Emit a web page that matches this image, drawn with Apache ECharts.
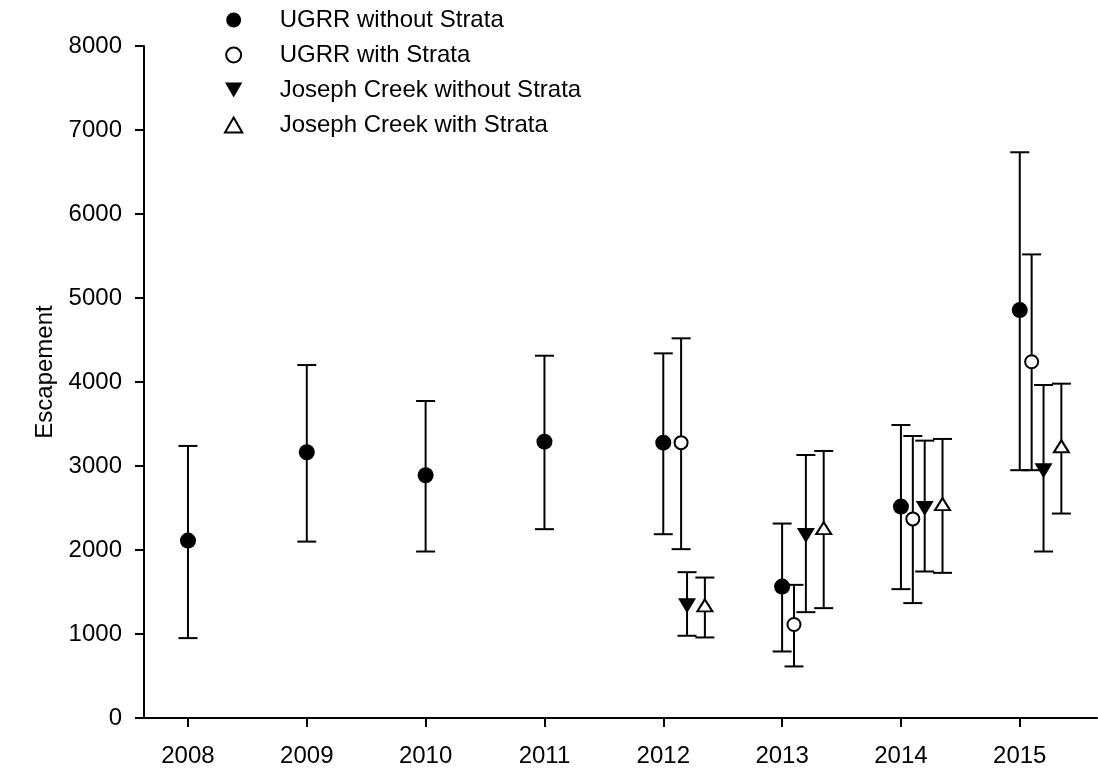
<!DOCTYPE html>
<html>
<head>
<meta charset="utf-8">
<script src="https://cdn.jsdelivr.net/npm/echarts@6/dist/echarts.min.js"></script>
<style>
html,body{margin:0;padding:0;background:#fff;}
#chart{width:1098px;height:773px;}
</style>
</head>
<body>
<div id="chart"></div>
<script>
// ---- Data ----
const years = [2008, 2009, 2010, 2011, 2012, 2013, 2014, 2015];
const yTicks = [0, 1000, 2000, 3000, 4000, 5000, 6000, 7000, 8000];

// UGRR without Strata
const ugrrNoX = [2008, 2009, 2010, 2011, 2012, 2013, 2014, 2015];
const ugrrNoEst = [2112, 3164, 2890, 3290, 3278, 1565, 2517, 4856];
const ugrrNoLow = [951, 2100, 1982, 2248, 2188, 792, 1534, 2950];
const ugrrNoHigh = [3239, 4202, 3774, 4313, 4341, 2315, 3488, 6735];

// UGRR with Strata
const ugrrStX = [2012.15, 2013.1, 2014.1, 2015.1];
const ugrrStEst = [3278, 1113, 2370, 4241];
const ugrrStLow = [2010, 614, 1368, 2950];
const ugrrStHigh = [4520, 1585, 3357, 5519];

// Joseph Creek without Strata
const josNoX = [2012.2, 2013.2, 2014.2, 2015.2];
const josNoEst = [1335, 2172, 2495, 2944];
const josNoLow = [979, 1260, 1744, 1982];
const josNoHigh = [1736, 3131, 3302, 3964];

// Joseph Creek with Strata
const josStX = [2012.35, 2013.35, 2014.35, 2015.35];
const josStEst = [1341, 2260, 2547, 3235];
const josStLow = [959, 1308, 1728, 2434];
const josStHigh = [1672, 3179, 3322, 3980];

const names = ['UGRR without Strata', 'UGRR with Strata', 'Joseph Creek without Strata', 'Joseph Creek with Strata'];

// ---- Build ----
const FONT = '"Liberation Sans", Arial, sans-serif';
function pts(xs, ys) { return xs.map((x, i) => [x, ys[i]]); }
function bars(xs, lo, hi) { return xs.map((x, i) => [x, lo[i], hi[i]]); }

function errorSeries(id, data) {
  return {
    type: 'custom',
    name: id,
    data: data,
    z: 1,
    silent: true,
    encode: { x: 0, y: [1, 2] },
    renderItem: function (params, api) {
      const x = api.value(0);
      const a = api.coord([x, api.value(1)]);
      const b = api.coord([x, api.value(2)]);
      const hw = 9.5;
      const st = { stroke: '#000', lineWidth: 2, fill: null };
      return {
        type: 'group',
        children: [
          { type: 'line', shape: { x1: a[0], y1: a[1], x2: b[0], y2: b[1] }, style: st },
          { type: 'line', shape: { x1: a[0] - hw, y1: a[1], x2: a[0] + hw, y2: a[1] }, style: st },
          { type: 'line', shape: { x1: b[0] - hw, y1: b[1], x2: b[0] + hw, y2: b[1] }, style: st }
        ]
      };
    }
  };
}

const downTri = 'path://M0,0L10,0L5,8.66Z';
const upTri = 'path://M5,0L10,8.66L0,8.66Z';

const option = {
  animation: false,
  backgroundColor: '#fff',
  textStyle: { fontFamily: FONT },
  grid: { left: 144, right: 1, top: 46, bottom: 55, containLabel: false, outerBoundsMode: 'none' },
  legend: {
    orient: 'vertical',
    left: 219,
    top: 3,
    itemWidth: 82,
    itemHeight: 15,
    itemGap: 11,
    symbolKeepAspect: true,
    selectedMode: false,
    textStyle: { fontFamily: FONT, fontSize: 24, color: '#000' },
    data: [
      { name: names[0], icon: 'circle' },
      { name: names[1], icon: 'circle' },
      { name: names[2], icon: downTri },
      { name: names[3], icon: upTri }
    ]
  },
  xAxis: {
    type: 'value',
    min: 2007.63,
    max: 2015.65,
    axisLine: { lineStyle: { color: '#000', width: 2 } },
    axisTick: { length: 9, lineStyle: { color: '#000', width: 2 }, customValues: years },
    axisLabel: { customValues: years, fontFamily: FONT, fontSize: 24, color: '#000', margin: 26,
      formatter: function (v) { return String(Math.round(v)); } },
    splitLine: { show: false }
  },
  yAxis: {
    type: 'value',
    min: yTicks[0],
    max: yTicks[yTicks.length - 1],
    interval: 1000,
    name: 'Escapement',
    nameLocation: 'middle',
    nameGap: 60,
    nameTextStyle: { fontFamily: FONT, fontSize: 24, color: '#000', padding: [0, 0, 0, 20] },
    axisLine: { show: true, lineStyle: { color: '#000', width: 2 } },
    axisTick: { show: true, length: 9, lineStyle: { color: '#000', width: 2 } },
    axisLabel: { fontFamily: FONT, fontSize: 24, color: '#000', margin: 22,
      formatter: function (v) { return String(v); } },
    splitLine: { show: false }
  },
  series: [
    errorSeries('eb1', bars(ugrrNoX, ugrrNoLow, ugrrNoHigh)),
    errorSeries('eb2', bars(ugrrStX, ugrrStLow, ugrrStHigh)),
    errorSeries('eb3', bars(josNoX, josNoLow, josNoHigh)),
    errorSeries('eb4', bars(josStX, josStLow, josStHigh)),
    {
      type: 'scatter', name: names[0], z: 3, data: pts(ugrrNoX, ugrrNoEst),
      symbol: 'circle', symbolSize: 16,
      itemStyle: { color: '#000', borderColor: '#000', borderWidth: 0, opacity: 1 }
    },
    {
      type: 'scatter', name: names[1], z: 3, data: pts(ugrrStX, ugrrStEst),
      symbol: 'circle', symbolSize: 13,
      itemStyle: { color: '#fff', borderColor: '#000', borderWidth: 2, opacity: 1 }
    },
    {
      type: 'scatter', name: names[2], z: 3, data: pts(josNoX, josNoEst),
      symbol: downTri, symbolSize: [18, 15],
      itemStyle: { color: '#000', borderColor: '#000', borderWidth: 0, opacity: 1 }
    },
    {
      type: 'scatter', name: names[3], z: 3, data: pts(josStX, josStEst),
      symbol: upTri, symbolSize: [15, 12],
      itemStyle: { color: '#fff', borderColor: '#000', borderWidth: 2, opacity: 1 }
    }
  ]
};

const chart = echarts.init(document.getElementById('chart'), null, { renderer: 'canvas' });
chart.setOption(option);
</script>
</body>
</html>
